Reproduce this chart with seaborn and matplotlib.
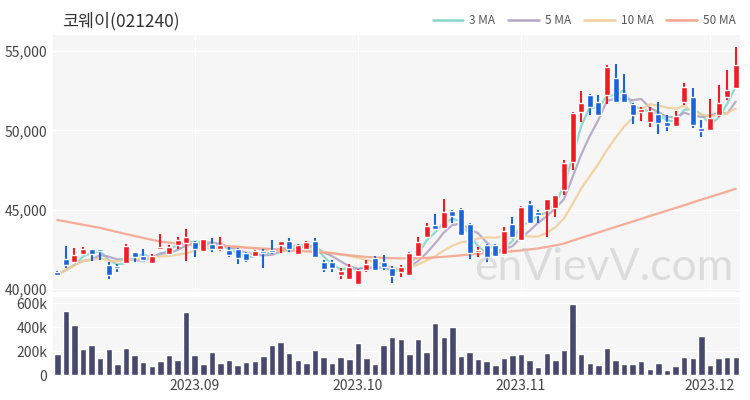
import matplotlib
matplotlib.use('Agg')
import matplotlib.pyplot as plt
import numpy as np
import pandas as pd
import seaborn as sns
from matplotlib.lines import Line2D
from matplotlib.ticker import FuncFormatter

TITLE = '코웨이(021240)'
WATERMARK = 'enVievV.com'

# daily candles, Aug 9 - Dec 6 2023 (KRX trading days)
OPEN = [41100, 41900, 41700, 42200, 42500, 42500, 41500, 41450, 41650, 42300,
        42100, 41650, 42550, 42200, 42800, 42900, 42950, 42400, 42850, 42550,
        42450, 42500, 42250, 42100, 42400, 42450, 42800, 43050, 42200, 42550,
        43050, 41700, 41700, 40900, 40600, 40300, 41200, 41950, 41700, 41350,
        41100, 40900, 42100, 43300, 44050, 43850, 44900, 45050, 44100, 42300,
        42750, 42800, 42200, 44100, 43100, 45350, 44850, 45000, 45100, 46250,
        48000, 51150, 52250, 51800, 52200, 53300, 52350, 51650, 51150, 50550,
        51050, 50500, 50250, 51800, 52100, 50150, 50050, 50950, 52100, 52650]
HIGH = [41150, 42700, 42600, 42650, 42550, 42520, 41700, 41600, 42850, 42350,
        42500, 42200, 43450, 42800, 43250, 43800, 43000, 43150, 43200, 43300,
        42650, 42600, 42350, 42450, 42500, 43100, 43000, 43200, 42850, 43050,
        43200, 41800, 41800, 41300, 41550, 41250, 41800, 42050, 42150, 41450,
        41500, 42350, 43300, 44150, 44750, 45650, 44950, 45100, 44150, 42650,
        42850, 42850, 43900, 44550, 45200, 45550, 44950, 45700, 45950, 48100,
        51150, 52450, 52300, 52200, 54100, 54200, 53550, 51700, 51500, 51500,
        51800, 50950, 51250, 53000, 52650, 50650, 51950, 52850, 53800, 55250]
LOW = [40800, 41300, 41650, 42150, 41750, 41820, 40650, 41100, 41600, 41700,
       41800, 41600, 42500, 42150, 42550, 41750, 42000, 42350, 42350, 42400,
       42000, 41550, 41700, 42000, 41350, 42200, 42250, 42350, 42150, 42450,
       41950, 41100, 41050, 40600, 40550, 40250, 41050, 41150, 41200, 40400,
       40750, 40850, 42050, 43200, 43700, 43800, 44150, 43350, 41900, 42000,
       41700, 42050, 42150, 43200, 43050, 44100, 44150, 43300, 44550, 45900,
       47500, 50500, 50950, 50900, 51650, 51700, 51750, 50400, 50600, 50200,
       49800, 49950, 50200, 51600, 50150, 49550, 50000, 50850, 51900, 52600]
CLOSE = [40900, 41500, 42150, 42500, 42200, 42400, 40900, 41300, 42700, 42000,
         41850, 42050, 42650, 42650, 43100, 43250, 42550, 43150, 42550, 42750,
         42150, 41950, 41850, 42400, 42250, 42300, 43000, 42550, 42800, 42950,
         42000, 41250, 41350, 41150, 41400, 41200, 41600, 41200, 41400, 40800,
         41400, 42250, 42950, 43950, 43800, 44850, 44600, 43400, 42250, 42450,
         42000, 42100, 43650, 43300, 45150, 44150, 44650, 45650, 45900, 47950,
         51100, 51750, 51500, 50950, 54000, 51800, 51800, 50950, 51350, 51200,
         50450, 50250, 50900, 52750, 50350, 49950, 50750, 51700, 52550, 54100]
VOLUME_K = [172, 536, 417, 214, 250, 144, 214, 92, 222, 167,
            106, 78, 117, 167, 125, 525, 164, 89, 194, 97,
            122, 86, 111, 119, 156, 250, 272, 181, 125, 100,
            211, 153, 97, 147, 133, 269, 144, 92, 253, 319,
            297, 175, 303, 194, 433, 314, 400, 161, 189, 133,
            117, 83, 144, 169, 172, 128, 67, 186, 125, 208,
            592, 178, 100, 83, 228, 125, 89, 92, 117, 47,
            100, 44, 75, 153, 139, 322, 86, 144, 150, 153]
MA50 = [44350, 44250, 44150, 44050, 43950, 43850, 43720, 43590, 43460, 43340,
        43220, 43100, 42990, 42920, 42870, 42830, 42800, 42770, 42740, 42710,
        42680, 42650, 42610, 42580, 42550, 42520, 42490, 42450, 42410, 42370,
        42330, 42290, 42250, 42190, 42130, 42070, 42020, 41980, 41960, 41940,
        41930, 41930, 41940, 41960, 41990, 42030, 42070, 42120, 42170, 42220,
        42260, 42300, 42340, 42380, 42430, 42490, 42560, 42650, 42750, 42860,
        43050, 43220, 43390, 43560, 43740, 43910, 44080, 44250, 44420, 44600,
        44770, 44940, 45110, 45280, 45460, 45630, 45800, 45970, 46140, 46320]
MONTH_TICK_POS = [16, 35, 54, 76]
MONTH_TICK_LABELS = ['2023.09', '2023.10', '2023.11', '2023.12']
PRICE_TICKS = [40000, 45000, 50000, 55000]
VOLUME_TICKS = [0, 200000, 400000, 600000]

MA_WINDOWS = [3, 5, 10]
MA_LABELS = ['3 MA', '5 MA', '10 MA', '50 MA']
MA_COLORS = ['#86d6c8', '#b3a6c6', '#f1cf9c', '#f5a48e']
UP_COLOR = '#f01c24'
DOWN_COLOR = '#1b63da'
VOLUME_COLOR = '#48486e'
PANEL_BG = '#f6f6f6'
TEXT_COLOR = '#444444'

sns.set_theme(style='whitegrid')
plt.rcParams['font.family'] = ['Noto Sans CJK KR', 'DejaVu Sans']

opens = np.array(OPEN)
closes = np.array(CLOSE)
idx = np.arange(len(CLOSE))

fig = plt.figure(figsize=(7.5, 4), dpi=100)
ax = fig.add_axes([0.0707, 0.27, 0.916, 0.6425])
ax_vol = fig.add_axes([0.0707, 0.06, 0.916, 0.1975], sharex=ax)

for a in (ax, ax_vol):
    a.set_facecolor(PANEL_BG)
    a.grid(True, color='white', linewidth=1.0)
    for spine in a.spines.values():
        spine.set_visible(False)
    a.tick_params(length=0, labelsize=10, colors=TEXT_COLOR, pad=4)

# ── moving averages ─────────────────────────────────────────────────────────
ma = pd.DataFrame({'x': idx})
for w, label in zip(MA_WINDOWS, MA_LABELS):
    ma[label] = pd.Series(closes).rolling(w, min_periods=1).mean()
ma['50 MA'] = MA50
long = ma.melt(id_vars='x', var_name='MA', value_name='price')
sns.lineplot(data=long, x='x', y='price', hue='MA', hue_order=MA_LABELS,
             palette=MA_COLORS, linewidth=1.6, alpha=0.9, legend=False,
             ax=ax, zorder=3)

# ── candles ─────────────────────────────────────────────────────────────────
colors = np.where(closes >= opens, UP_COLOR, DOWN_COLOR)
body_low = np.minimum(opens, closes)
body_h = np.maximum(np.abs(closes - opens), 70)
ax.vlines(idx, LOW, HIGH, colors=colors, linewidth=1.5, zorder=4)
ax.bar(idx, body_h, bottom=body_low, width=0.7, color=colors, zorder=4)

ax.set_ylim(39810, 56010)
ax.set_yticks(PRICE_TICKS)
ax.yaxis.set_major_formatter(FuncFormatter(lambda v, _: f'{v:,.0f}'))
ax.set_xlabel('')
ax.set_ylabel('')
plt.setp(ax.get_xticklabels(), visible=False)

ax.text(0.99, 0.015, WATERMARK, transform=ax.transAxes, ha='right', va='bottom',
        fontsize=32, color='#c4c4c4', alpha=0.5, zorder=5,
        family=['Lato', 'DejaVu Sans'])

# ── volume ──────────────────────────────────────────────────────────────────
vol = pd.DataFrame({'x': idx, 'volume': np.array(VOLUME_K) * 1000})
sns.barplot(data=vol, x='x', y='volume', color=VOLUME_COLOR, saturation=1,
            width=0.75, ax=ax_vol, zorder=3)
ax_vol.set_ylim(-8000, 650000)
ax_vol.set_yticks(VOLUME_TICKS)
ax_vol.yaxis.set_major_formatter(
    FuncFormatter(lambda v, _: '0' if v == 0 else f'{v / 1000:.0f}k'))
ax_vol.set_xlim(-0.5, len(CLOSE) - 0.5)
ax_vol.set_xticks(MONTH_TICK_POS)
ax_vol.set_xticklabels(MONTH_TICK_LABELS)
ax_vol.tick_params(axis='x', pad=2)
ax_vol.set_xlabel('')
ax_vol.set_ylabel('')

# ── title / legend ──────────────────────────────────────────────────────────
fig.text(0.083, 0.948, TITLE, fontsize=12.5, color='#333333', va='center')
handles = [Line2D([], [], color=c, linewidth=1.8) for c in MA_COLORS]
fig.legend(handles, MA_LABELS, loc='center right', bbox_to_anchor=(0.995, 0.948),
           ncol=4, frameon=False, fontsize=8.5, handlelength=2.6,
           handletextpad=0.5, columnspacing=1.1, labelcolor='#555555')

fig.savefig('out.png', dpi=100)
